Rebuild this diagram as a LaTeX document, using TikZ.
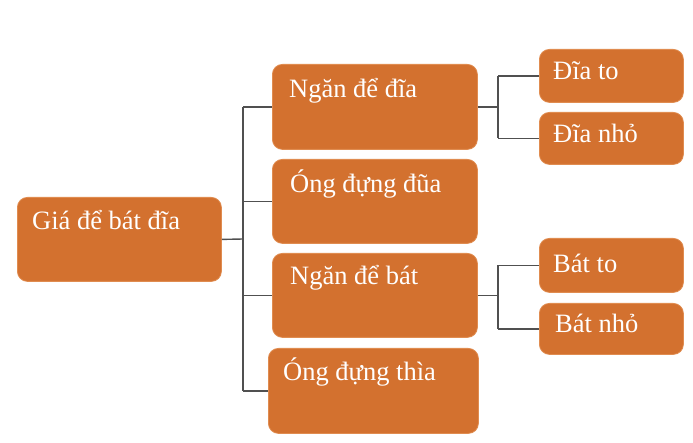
\documentclass[tikz,border=0pt]{standalone}
\usepackage{fontspec}
\setmainfont{Liberation Serif}
\definecolor{boxfill}{RGB}{211,113,47}
\definecolor{boxline}{RGB}{224,140,80}
\definecolor{conn}{RGB}{80,80,80}
\tikzset{
  box/.style={draw=boxline, line width=0.8pt, fill=boxfill, rounded corners=10pt, anchor=north west, inner sep=0pt},
  lbl/.style={anchor=base west, inner sep=0pt, text=white, font=\fontsize{26.5}{30}\selectfont},
  conline/.style={draw=conn, line width=1.4pt},
}
\begin{document}
\begin{tikzpicture}[x=1pt,y=-1pt]
\useasboundingbox (0,0) rectangle (693,443);
% boxes
\node[box, minimum width=204pt, minimum height=84pt] (root) at (17,197) {};
\node[box, minimum width=205pt, minimum height=85pt] (b1) at (272,64) {};
\node[box, minimum width=205pt, minimum height=84pt] (b2) at (272,159) {};
\node[box, minimum width=205pt, minimum height=84pt] (b3) at (272,253) {};
\node[box, minimum width=210pt, minimum height=85pt] (b4) at (268,348) {};
\node[box, minimum width=144pt, minimum height=53pt] (c1) at (539,49) {};
\node[box, minimum width=144pt, minimum height=52pt] (c2) at (539,112) {};
\node[box, minimum width=144pt, minimum height=54pt] (c3) at (539,238) {};
\node[box, minimum width=144pt, minimum height=51pt] (c4) at (539,303) {};
% labels
\node[lbl] (rootT) at (32,230) {Giá để bát đĩa};
\node[lbl] (b1T) at (289,98) {Ngăn để đĩa};
\node[lbl] (b2T) at (290,193) {Óng đựng đũa};
\node[lbl] (b3T) at (290,285) {Ngăn để bát};
\node[lbl] (b4T) at (283,380) {Óng đựng thìa};
\node[lbl] (c1T) at (553,80) {Đĩa to};
\node[lbl] (c2T) at (553,143) {Đĩa nhỏ};
\node[lbl] (c3T) at (553,273) {Bát to};
\node[lbl] (c4T) at (555,333) {Bát nhỏ};
% connectors
\coordinate (tk) at (243,239);
\coordinate (tr1) at (498,106);
\coordinate (tr2) at (498,295);
\draw[conline] (root.east) -- (tk);
\draw[conline] (tk |- b1.west) -- (tk |- b4.west);
\foreach \b in {b1,b2,b3,b4} \draw[conline] (tk |- \b.west) -- (\b.west);
\draw[conline] (b1.east) -- (tr1 |- b1.east);
\draw[conline] (tr1 |- c1.west) -- (tr1 |- c2.west);
\draw[conline] (tr1 |- c1.west) -- (c1.west);
\draw[conline] (tr1 |- c2.west) -- (c2.west);
\draw[conline] (b3.east) -- (tr2 |- b3.east);
\draw[conline] (tr2 |- c3.west) -- (tr2 |- c4.west);
\draw[conline] (tr2 |- c3.west) -- (c3.west);
\draw[conline] (tr2 |- c4.west) -- (c4.west);
\end{tikzpicture}
\end{document}
